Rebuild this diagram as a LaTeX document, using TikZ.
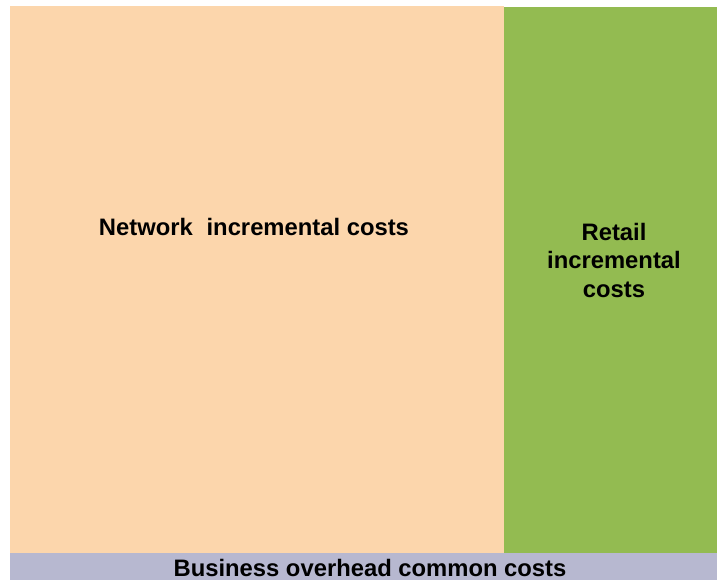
\documentclass[tikz,border=0pt]{standalone}
\usepackage{fontspec}
\setmainfont{Liberation Sans}
\definecolor{peach}{HTML}{FCD6AC}
\definecolor{leaf}{HTML}{93BB51}
\definecolor{lav}{HTML}{B7B8D0}
\begin{document}
\begin{tikzpicture}[x=1pt,y=-1pt,
  lbl/.style={font=\bfseries\fontsize{23.8}{28.5}\selectfont,text=black,inner sep=0pt,align=center}]
\useasboundingbox (0,0) rectangle (718,580);
\fill[peach] (10,6) rectangle (504,553);
\fill[leaf] (504,7) rectangle (717,553);
\fill[lav] (10,553) rectangle (717,580);
\node[lbl] (net) at (254,227) {Network\hspace{0.3em} incremental costs};
\node[lbl] (ret) at (614,260) {Retail\\incremental\\costs};
\node[lbl] (bus) at (370,568) {Business overhead common costs};
\end{tikzpicture}
\end{document}
